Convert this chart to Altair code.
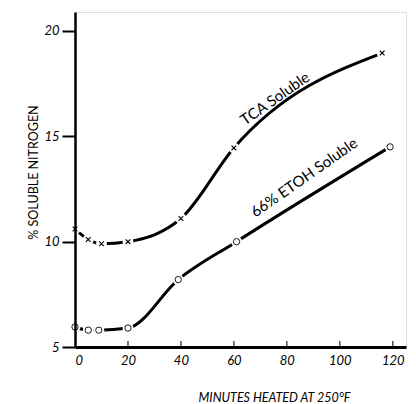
import altair as alt
import pandas as pd

# Data
minutes_tca = [0, 5, 10, 20, 40, 60, 116]
tca_soluble = [10.6, 10.1, 9.9, 10.0, 11.1, 14.45, 18.95]
minutes_etoh = [0, 5, 9, 20, 39, 61, 119]
etoh_soluble = [5.95, 5.8, 5.8, 5.9, 8.2, 10.0, 14.5]

x_ticks = [0, 20, 40, 60, 80, 100, 120]
y_ticks = [5, 10, 15, 20]

label_text = ["TCA Soluble", "66% ETOH Soluble"]
label_x = [77.5, 88.5]
label_y = [16.44, 12.69]

FONT = "Lato"

df = pd.DataFrame(
    {"minutes": minutes_tca + minutes_etoh,
     "value": tca_soluble + etoh_soluble,
     "series": ["TCA"] * len(minutes_tca) + ["ETOH"] * len(minutes_etoh)}
)
df_tca = df[df.series == "TCA"]
df_etoh = df[df.series == "ETOH"]
labels = pd.DataFrame({"text": label_text, "minutes": label_x, "value": label_y})
ticks = pd.DataFrame({"minutes": x_ticks[1:], "value": [5] * (len(x_ticks) - 1)})

xscale = alt.Scale(domain=[0, 125], nice=False, zero=False)
yscale = alt.Scale(domain=[5, 20.9], nice=False, zero=False)

X = alt.X(
    "minutes:Q", scale=xscale,
    axis=alt.Axis(
        values=x_ticks, ticks=False, grid=False, labelPadding=7, zindex=1,
        labelFont=FONT, labelFontSize=13, labelFontStyle="italic", labelColor="black",
        domainColor="black", domainWidth=3,
        title="MINUTES HEATED AT 250°F", titleFont=FONT, titleFontSize=12.5,
        titleFontStyle="italic", titleFontWeight="normal", titleColor="black",
        titleX=199, titleY=50, titleBaseline="middle",
    ),
)
Y = alt.Y(
    "value:Q", scale=yscale,
    axis=alt.Axis(
        values=y_ticks, grid=False, tickSize=13, tickWidth=2, tickColor="black",
        zindex=1,
        labelPadding=3, labelFont=FONT, labelFontSize=13, labelFontStyle="italic",
        labelColor="black", domainColor="black", domainWidth=2.5,
        title="% SOLUBLE NITROGEN", titleFont=FONT, titleFontSize=12.5,
        titleFontWeight="normal", titleColor="black",
        titleX=-42, titleY=160, titleAngle=270, titleBaseline="middle",
    ),
)

line_tca = alt.Chart(df_tca).mark_line(
    color="black", strokeWidth=3, interpolate="monotone"
).encode(x=X, y=Y)
line_etoh = alt.Chart(df_etoh).mark_line(
    color="black", strokeWidth=3, interpolate="monotone"
).encode(x=X, y=Y)

halo = alt.Chart(df).mark_point(
    shape="circle", filled=True, color="white", opacity=1, size=120
).encode(x=X, y=Y)

pts_tca = alt.Chart(df_tca).mark_point(
    shape="M-1,-1L1,1M-1,1L1,-1", filled=False, color="black",
    strokeWidth=1.1, size=22, opacity=1
).encode(x=X, y=Y)
pts_etoh = alt.Chart(df_etoh).mark_point(
    shape="circle", filled=False, color="black", strokeWidth=0.9, size=40, opacity=1
).encode(x=X, y=Y)

txt = alt.Chart(labels).mark_text(
    angle=325, font=FONT, fontSize=15, color="black", baseline="middle",
    align="center", dy=-9
).encode(x=X, y=Y, text="text:N")

xtick = alt.Chart(ticks).mark_tick(
    orient="vertical", color="black", thickness=1.5, size=6, yOffset=-3
).encode(x=X, y=Y)

chart = alt.layer(line_tca, line_etoh, halo, pts_tca, pts_etoh, txt, xtick).properties(
    width=331, height=335,
    autosize=alt.AutoSizeParams(type="none"),
    padding={"left": 67, "top": 4, "right": 2, "bottom": 58},
).configure_view(stroke=None).configure(background="white")

chart.save("out.html", embed_options={"renderer": "svg", "actions": False})
